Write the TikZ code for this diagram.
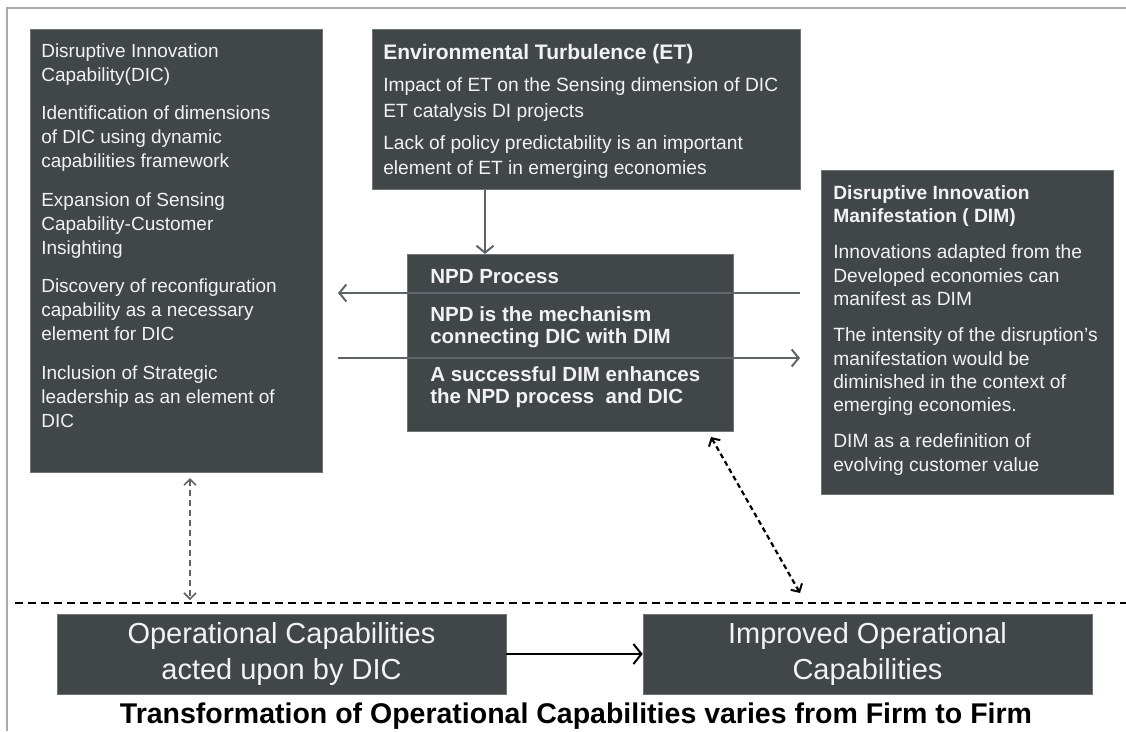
\documentclass[tikz,border=0pt]{standalone}
\usepackage{fontspec}
\setmainfont{Liberation Sans}
\usetikzlibrary{arrows.meta}
\definecolor{boxfill}{RGB}{65,70,73}
\definecolor{boxtext}{RGB}{242,242,242}
\definecolor{arrgray}{RGB}{95,100,104}
\definecolor{framegray}{RGB}{170,170,170}
\newcommand{\tbox}[4]{\parbox[t][#2][t]{#1}{\raggedright\setlength{\parskip}{#3}#4}}
\begin{document}
\begin{tikzpicture}[x=1pt,y=-1pt,
  box/.style={fill=boxfill, draw=boxfill!75!white, line width=0.6pt, anchor=north west, inner sep=0pt, text=boxtext},
  opbox/.style={fill=boxfill, draw=boxfill!75!white, line width=0.6pt, inner sep=0pt, text=boxtext, align=center,
    minimum width=449pt, minimum height=80pt, font=\fontsize{29}{36}\selectfont},
  garr/.style={draw=arrgray, line width=2pt, -{Straight Barb[length=7pt,width=17pt,line width=2pt]}},
  gdash/.style={draw=arrgray, line width=1.6pt, dash pattern=on 6pt off 4pt,
    {Straight Barb[length=6pt,width=12pt,line width=1.6pt]}-{Straight Barb[length=6pt,width=12pt,line width=1.6pt]}},
  kdash/.style={draw=black, line width=2.2pt, dash pattern=on 5pt off 3.5pt,
    {Straight Barb[length=6pt,width=13pt,line width=2pt]}-{Straight Barb[length=6pt,width=13pt,line width=2pt]}},
  karr/.style={draw=black, line width=2.5pt, -{Straight Barb[length=8pt,width=20pt,line width=2pt]}},
  sepline/.style={draw=black, line width=2pt, dash pattern=on 8pt off 5pt}
]
\useasboundingbox (0,0) rectangle (1126,731);
\fill[white] (0,0) rectangle (1126,731);
\draw[framegray, line width=1.5pt] (7,731) -- (7,8) -- (1126,8);

% DIC box
\node[box, inner xsep=11pt, inner ysep=14pt, font=\fontsize{19}{24}\selectfont] (dic) at (30,29)
  {\tbox{270pt}{415pt}{14.5pt}{Disruptive Innovation\\Capability(DIC)\par
   Identification of dimensions\\of DIC using dynamic\\capabilities framework\par
   Expansion of Sensing\\Capability-Customer\\Insighting\par
   Discovery of reconfiguration\\capability as a necessary\\element for DIC\par
   Inclusion of Strategic\\leadership as an element of\\DIC}};

% ET box
\node[box, inner xsep=11pt, inner ysep=15.4pt, font=\fontsize{19.2}{25.5}\selectfont] (et) at (372,29)
  {\tbox{406pt}{129.2pt}{6.5pt}{{\fontsize{21}{25.5}\selectfont\bfseries Environmental Turbulence (ET)\par}
   Impact of ET on the Sensing dimension of DIC\\ET catalysis DI projects\par
   Lack of policy predictability is an important\\element of ET in emerging economies}};

% NPD box
\node[box, inner xsep=23pt, inner ysep=15.5pt, font=\bfseries\fontsize{20.5}{22}\selectfont] (npd) at (407,254)
  {\tbox{280pt}{146pt}{16pt}{NPD Process\par
   NPD is the mechanism\\connecting DIC with DIM\par
   A successful DIM enhances\\the NPD process \ and DIC}};

% DIM box
\node[box, inner xsep=12pt, inner ysep=15pt, font=\fontsize{19.2}{23.3}\selectfont] (dim) at (821,170)
  {\tbox{268pt}{294pt}{13pt}{\textbf{Disruptive Innovation\\Manifestation ( DIM)}\par
   Innovations adapted from the\\Developed economies can\\manifest as DIM\par
   The intensity of the disruption's\\manifestation would be\\diminished in the context of\\emerging economies.\par
   DIM as a redefinition of\\evolving customer value}};

% bottom boxes
\node[opbox] (op) at (281.5,654) {Operational Capabilities\\acted upon by DIC};
\node[opbox] (imp) at (867.5,654) {Improved Operational\\Capabilities};
\node[font=\bfseries\fontsize{28.5}{32}\selectfont, inner sep=0pt] (title) at (576,716)
  {Transformation of Operational Capabilities varies from Firm to Firm};

% connector coordinates
\coordinate (la1) at (800,293);
\coordinate (la2) at (338,293);
\coordinate (ra1) at (338,358);
\coordinate (ra2) at (800,358);
\coordinate (d1a) at (190,478);
\coordinate (d1b) at (190,600);
\coordinate (d2a) at (711,437);
\coordinate (d2b) at (800,593);
\coordinate (s1) at (15,603);
\coordinate (s2) at (1126,603);

% connectors
\draw[garr] (485,0 |- et.south) -- (485,0 |- npd.north);
\draw[garr] (la1) -- (la2);
\draw[garr] (ra1) -- (ra2);
\draw[gdash] (d1a) -- (d1b);
\draw[kdash] (d2a) -- (d2b);
\draw[sepline] (s1) -- (s2);
\draw[karr] (op.east) -- (imp.west);
\end{tikzpicture}
\end{document}
